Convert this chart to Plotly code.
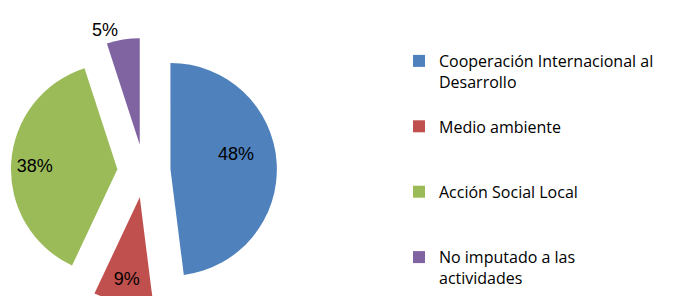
import plotly.graph_objects as go

labels = [
    "Cooperación Internacional al<br>Desarrollo<br> ",
    "Medio ambiente<br> <br> ",
    "Acción Social Local<br> <br> ",
    "No imputado a las<br>actividades",
]
values = [48, 9, 38, 5]
colors = ["#4F81BD", "#C0504D", "#9BBB59", "#8064A2"]
text_positions = ["inside", "inside", "inside", "outside"]
NB = "\u00a0"
label_templates = [
    NB * 5 + "%{percent:.0%}<br> ",
    "%{percent:.0%}",
    "%{percent:.0%}" + NB * 11,
    "%{percent:.0%}",
]

fig = go.Figure(
    go.Pie(
        labels=labels,
        values=values,
        sort=False,
        direction="clockwise",
        rotation=0,
        pull=[0.25, 0.25, 0.25, 0.25],
        marker=dict(colors=colors, line=dict(color="white", width=0)),
        textinfo="percent",
        texttemplate=label_templates,
        textposition=text_positions,
        insidetextorientation="horizontal",
        insidetextfont=dict(color="black", size=18, family="Liberation Sans, Arial, sans-serif"),
        outsidetextfont=dict(color="black", size=18, family="Liberation Sans, Arial, sans-serif"),
        domain=dict(x=[0, 0.398], y=[0, 1]),
        hoverinfo="label+percent",
    )
)

fig.update_layout(
    width=683,
    height=296,
    margin=dict(l=0, r=0, t=30, b=0, autoexpand=False),
    paper_bgcolor="white",
    plot_bgcolor="white",
    showlegend=True,
    legend=dict(
        xref="container",
        yref="container",
        x=391 / 683,
        xanchor="left",
        y=1 - 36 / 296,
        yanchor="top",
        valign="top",
        maxheight=600,
        font=dict(family="Open Sans, Liberation Sans, sans-serif", size=16, color="black"),
        bgcolor="rgba(0,0,0,0)",
        traceorder="normal",
    ),
)

fig.write_html("out.html")
